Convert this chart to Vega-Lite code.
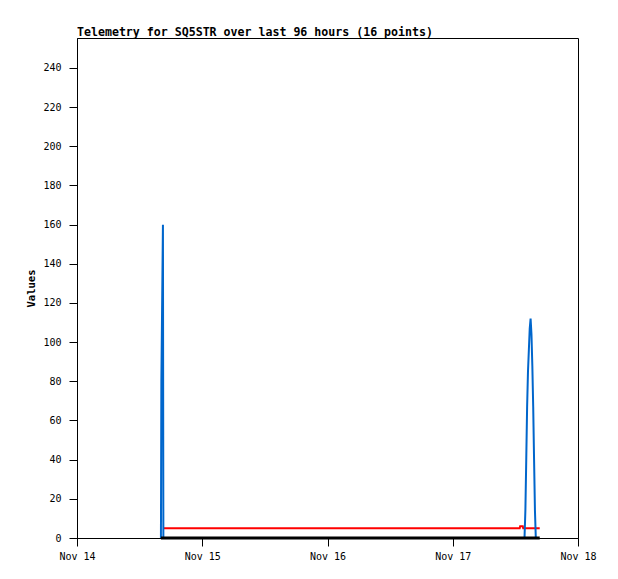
{
  "$schema": "https://vega.github.io/schema/vega-lite/v6.json",
  "autosize": "none",
  "padding": {"left": 77, "top": 38, "right": 40, "bottom": 41},
  "width": 501,
  "height": 500,
  "background": "white",
  "config": {
    "view": {"stroke": "#000", "strokeWidth": 1},
    "font": "DejaVu Sans Mono"
  },
  "title": {
    "text": "Telemetry for SQ5STR over last 96 hours (16 points)",
    "anchor": "start",
    "frame": "group",
    "font": "DejaVu Sans Mono",
    "fontSize": 11.6,
    "fontWeight": "bold",
    "color": "#000",
    "offset": -1
  },
  "data": {
    "values": [
      {"t": "2023-11-14T16:05:00Z", "v": 0, "s": "ch1"},
      {"t": "2023-11-14T16:10:00Z", "v": 80, "s": "ch1"},
      {"t": "2023-11-14T16:28:00Z", "v": 160, "s": "ch1"},
      {"t": "2023-11-14T16:33:00Z", "v": 0, "s": "ch1"},
      {"t": "2023-11-17T13:45:00Z", "v": 0, "s": "ch1"},
      {"t": "2023-11-17T13:55:00Z", "v": 14, "s": "ch1"},
      {"t": "2023-11-17T14:05:00Z", "v": 40, "s": "ch1"},
      {"t": "2023-11-17T14:15:00Z", "v": 67, "s": "ch1"},
      {"t": "2023-11-17T14:25:00Z", "v": 85, "s": "ch1"},
      {"t": "2023-11-17T14:35:00Z", "v": 96, "s": "ch1"},
      {"t": "2023-11-17T14:45:00Z", "v": 107, "s": "ch1"},
      {"t": "2023-11-17T14:55:00Z", "v": 112, "s": "ch1"},
      {"t": "2023-11-17T15:05:00Z", "v": 104, "s": "ch1"},
      {"t": "2023-11-17T15:15:00Z", "v": 88, "s": "ch1"},
      {"t": "2023-11-17T15:25:00Z", "v": 67, "s": "ch1"},
      {"t": "2023-11-17T15:35:00Z", "v": 40, "s": "ch1"},
      {"t": "2023-11-17T15:45:00Z", "v": 14, "s": "ch1"},
      {"t": "2023-11-17T15:55:00Z", "v": 0, "s": "ch1"},
      {"t": "2023-11-14T16:33:00Z", "v": 5, "s": "ch2"},
      {"t": "2023-11-17T12:50:00Z", "v": 5, "s": "ch2"},
      {"t": "2023-11-17T12:55:00Z", "v": 6, "s": "ch2"},
      {"t": "2023-11-17T13:25:00Z", "v": 6, "s": "ch2"},
      {"t": "2023-11-17T13:30:00Z", "v": 5, "s": "ch2"},
      {"t": "2023-11-17T16:40:00Z", "v": 5, "s": "ch2"},
      {"t": "2023-11-14T16:05:00Z", "v": 0, "s": "ch3"},
      {"t": "2023-11-17T16:40:00Z", "v": 0, "s": "ch3"}
    ]
  },
  "encoding": {
    "x": {
      "field": "t",
      "type": "temporal",
      "scale": {
        "type": "utc",
        "domain": [
          {"year": 2023, "month": 11, "date": 14, "utc": true},
          {"year": 2023, "month": 11, "date": 18, "utc": true}
        ]
      },
      "axis": {
        "title": null,
        "format": "%b %d",
        "values": [
          {"year": 2023, "month": 11, "date": 14, "utc": true},
          {"year": 2023, "month": 11, "date": 15, "utc": true},
          {"year": 2023, "month": 11, "date": 16, "utc": true},
          {"year": 2023, "month": 11, "date": 17, "utc": true},
          {"year": 2023, "month": 11, "date": 18, "utc": true}
        ],
        "grid": false,
        "tickSize": 8,
        "labelPadding": 5,
        "labelFont": "DejaVu Sans Mono",
        "labelFontSize": 10,
        "labelColor": "#000",
        "domainColor": "#000",
        "tickColor": "#000",
        "labelFlush": false
      }
    },
    "y": {
      "field": "v",
      "type": "quantitative",
      "scale": {"domain": [0, 255.3], "nice": false, "zero": true},
      "axis": {
        "title": "Values",
        "values": [0, 20, 40, 60, 80, 100, 120, 140, 160, 180, 200, 220, 240],
        "grid": false,
        "tickSize": 8,
        "labelPadding": 8,
        "labelFont": "DejaVu Sans Mono",
        "labelFontSize": 10,
        "labelColor": "#000",
        "domainColor": "#000",
        "tickColor": "#000",
        "titleFont": "DejaVu Sans Mono",
        "titleFontSize": 10.5,
        "titleFontWeight": "bold",
        "titleColor": "#000",
        "titlePadding": 6
      }
    }
  },
  "layer": [
    {
      "transform": [{"filter": "datum.s === 'ch2'"}],
      "mark": {"type": "line", "color": "#ff0000", "strokeWidth": 2, "interpolate": "linear"}
    },
    {
      "transform": [{"filter": "datum.s === 'ch1'"}],
      "mark": {"type": "line", "color": "#0066cc", "strokeWidth": 2, "interpolate": "linear"}
    },
    {
      "transform": [{"filter": "datum.s === 'ch3'"}],
      "mark": {"type": "line", "color": "#000000", "strokeWidth": 3, "interpolate": "linear"}
    }
  ]
}
